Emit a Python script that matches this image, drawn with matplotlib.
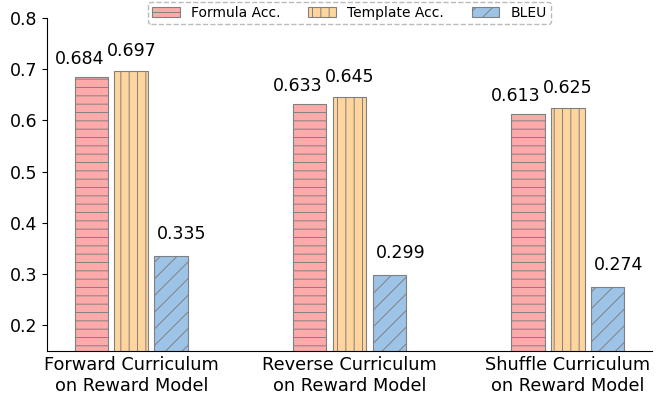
import numpy as np
import matplotlib.pyplot as plt

groups = ['Forward Curriculum\non Reward Model', 'Reverse Curriculum\non Reward Model', 'Shuffle Curriculum\non Reward Model']
formula_acc = [0.684, 0.633, 0.613]
template_acc = [0.697, 0.645, 0.625]
bleu = [0.335, 0.299, 0.274]

# (name, values, colour, hatch, label offset in points)
series = [('Formula Acc.', formula_acc, '#ffaaaa', '--', (-8.4, 6.5)),
          ('Template Acc.', template_acc, '#ffd59e', '||', (0, 7.9)),
          ('BLEU', bleu, '#9dc3e6', '//', (7.8, 9.4))]

plt.rcParams['hatch.color'] = '#808080'
plt.rcParams['hatch.linewidth'] = 0.7
fig = plt.figure(figsize=(6.65, 4.05), dpi=100)
ax = fig.add_axes([47 / 665, 1 - 351 / 405, 605 / 665, 333 / 405])

x = np.arange(len(groups))
w = 0.155
offs = [-0.183, 0, 0.183]
for (name, vals, c, h, lo), o in zip(series, offs):
    bars = ax.bar(x + o, vals, w, color=c, edgecolor='#808080', hatch=h, label=name, linewidth=0.8)
    for b, v in zip(bars, vals):
        ax.annotate(f'{v:.3f}', (b.get_x() + b.get_width() / 2, v), xytext=lo,
                    textcoords='offset points', ha='center', va='bottom', fontsize=12.5)

ax.set_ylim(0.15, 0.8)
ax.set_yticks([0.2, 0.3, 0.4, 0.5, 0.6, 0.7, 0.8])
ax.set_xticks(x)
ax.set_xticklabels(groups, fontsize=12.8)
ax.tick_params(axis='y', labelsize=12.5)
ax.tick_params(axis='x', length=0)
ax.spines['top'].set_visible(False)
ax.spines['right'].set_visible(False)

leg = ax.legend(loc='lower center', bbox_to_anchor=(0.5, 0.982), ncol=3, fontsize=10, frameon=True,
                handlelength=2.0, columnspacing=2.0, borderaxespad=0, borderpad=0.3)
leg.get_frame().set_linestyle('--')
leg.get_frame().set_edgecolor('#aaaaaa')

fig.savefig('out.png')
